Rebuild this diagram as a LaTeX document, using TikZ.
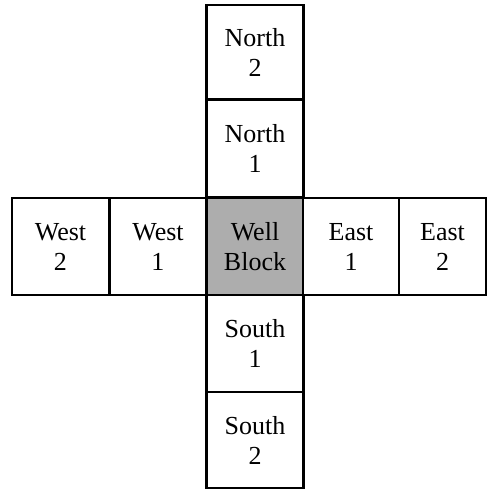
\documentclass[tikz,border=0pt]{standalone}
\usepackage{fontspec}
\setmainfont{Liberation Serif}
\usetikzlibrary{positioning}
\tikzset{
  % one grid cell of the cross
  block/.style={draw=black,line width=2.6pt,minimum width=97,minimum height=97,
    align=center,inner sep=0pt,font=\fontsize{26}{30}\selectfont},
  wellfill/.style={fill=black!32},
}

\begin{document}
\begin{tikzpicture}[x=1pt,y=1pt]
\useasboundingbox (0,0) rectangle (489,-491);

\node[block] (n2) at (255,-52) [minimum height=94] {North\\2};
\node[block] (n1) at (255,-148.5) {North\\1};
\node[block] (s1) at (255,-343.5) {South\\1};
\node[block] (s2) at (255,-440) [minimum height=96] {South\\2};
\node[block] (w2) at (60.5,-246.5) {West\\2};
\node[block] (w1) at (158,-246.5) {West\\1};
\node[block] (e1) at (351,-246.5) [minimum width=96] {East\\1};
\node[block] (e2) at (442.5,-246.5) [minimum width=87] {East\\2};

%% the well itself, drawn last so its border sits on top
\node[block,wellfill] (well) at (255,-246.5) [minimum width=96] {Well\\Block};

\end{tikzpicture}
\end{document}
